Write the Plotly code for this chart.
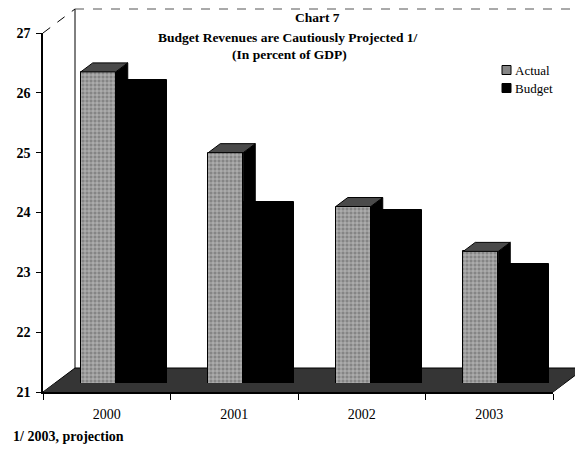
import plotly.graph_objects as go

# ---- data -------------------------------------------------------------
years = ["2000", "2001", "2002", "2003"]
actual = [26.35, 25.0, 24.1, 23.35]
budget = [26.22, 24.17, 24.05, 23.14]
y_ticks = [21, 22, 23, 24, 25, 26, 27]

# ---- geometry (pixels) ------------------------------------------------
W, H = 575, 451
ML, MR, MT, MB = 43, 22, 33, 59
PW, PH = W - ML - MR, H - MT - MB
Y0, Y1 = 21, 27
X0, X1 = -0.5, len(years) - 0.5
px_x = PW / (X1 - X0)          # pixels per category
px_y = PH / (Y1 - Y0)          # pixels per unit


def paper_x(px):
    return (px - ML) / PW


def paper_y(py):
    return (H - MB - py) / PH


# bar footprint in category units
A_OFF, A_W = -26 / px_x, 35 / px_x
B_OFF, B_W = 9 / px_x, 51 / px_x
# 3-D depth of each bar
DX, DY = 12 / px_x, 9 / px_y
# depth of the floor / back wall
WALL_DX, WALL_DY = 32 / PW, 24 / PH
FRONT_BAND = 9 / PH

SERIF = "Liberation Serif, Times New Roman, serif"
ACTUAL_BG, ACTUAL_FG = "#858585", "white"
FLOOR = "#353535"
xs = list(range(len(years)))

fig = go.Figure()

fig.add_trace(go.Bar(
    x=xs, y=budget, name="Budget", offset=B_OFF, width=B_W,
    marker=dict(color="black", line=dict(color="black", width=1)),
    showlegend=False,
))
fig.add_trace(go.Bar(
    x=xs, y=actual, name="Actual", offset=A_OFF, width=A_W,
    marker=dict(
        color=ACTUAL_BG,
        line=dict(color="black", width=1),
        pattern=dict(shape="+", fgcolor=ACTUAL_FG, bgcolor=ACTUAL_BG,
                     size=4, solidity=0.35),
    ),
    showlegend=False,
))

shapes = []

# floor slab and back wall
shapes.append(dict(
    type="path", xref="paper", yref="paper", layer="below",
    path=(f"M 0,0 L 1,0 L {1 + WALL_DX},{WALL_DY} "
          f"L {WALL_DX},{WALL_DY} Z"),
    fillcolor=FLOOR, line=dict(color="black", width=1),
))
shapes.append(dict(
    type="line", xref="paper", yref="paper", layer="below",
    x0=WALL_DX, x1=WALL_DX, y0=WALL_DY, y1=1 + WALL_DY,
    line=dict(color="black", width=1),
))
shapes.append(dict(
    type="line", xref="paper", yref="paper",
    x0=0, x1=WALL_DX, y0=1, y1=1 + WALL_DY,
    line=dict(color="black", width=1, dash="dash"),
))
shapes.append(dict(
    type="line", xref="paper", yref="paper",
    x0=WALL_DX, x1=1.1, y0=1 + WALL_DY, y1=1 + WALL_DY,
    line=dict(color="#555555", width=1, dash="dash"),
))

# 3-D faces of the Actual columns, built from the values
for i, v in zip(xs, actual):
    a0, a1 = i + A_OFF, i + A_OFF + A_W
    shapes.append(dict(
        type="path", xref="x", yref="y",
        path=(f"M {a1},{Y0} L {a1 + DX},{Y0 + DY} L {a1 + DX},{v + DY} "
              f"L {a1},{v} Z"),
        fillcolor="black", line=dict(color="black", width=1),
    ))
    shapes.append(dict(
        type="path", xref="x", yref="y",
        path=(f"M {a0},{v} L {a1},{v} L {a1 + DX},{v + DY} "
              f"L {a0 + DX},{v + DY} Z"),
        fillcolor="#4a4a4a", line=dict(color="black", width=1),
    ))

# front edge of the floor, in front of the columns
shift = FRONT_BAND * WALL_DX / WALL_DY
shapes.append(dict(
    type="path", xref="paper", yref="paper", layer="above",
    path=(f"M 0,0 L 1,0 L {1 + shift},{FRONT_BAND} "
          f"L {shift},{FRONT_BAND} Z"),
    fillcolor=FLOOR, line=dict(color=FLOOR, width=0),
))

# legend keys
legend_items = [("Actual", ACTUAL_BG, 70), ("Budget", "black", 88)]
for label, color, cy in legend_items:
    shapes.append(dict(
        type="rect", xref="paper", yref="paper",
        x0=paper_x(502), x1=paper_x(511),
        y0=paper_y(cy + 4.5), y1=paper_y(cy - 4.5),
        fillcolor=color, line=dict(color="black", width=1),
    ))

annotations = [
    dict(text="<b>Chart 7</b>", x=paper_x(317), y=paper_y(18)),
    dict(text="<b>Budget Revenues are Cautiously Projected 1/</b>",
         x=paper_x(288), y=paper_y(37)),
    dict(text="<b>(In percent of GDP)</b>", x=paper_x(289), y=paper_y(55)),
]
annotations = [dict(a, xref="paper", yref="paper", showarrow=False,
                    xanchor="center", yanchor="middle",
                    font=dict(family=SERIF, size=13.5, color="black"))
               for a in annotations]
for label, color, cy in legend_items:
    annotations.append(dict(
        text=label, xref="paper", yref="paper", x=paper_x(513),
        y=paper_y(cy), xanchor="left", yanchor="middle", showarrow=False,
        font=dict(family=SERIF, size=13, color="black"),
    ))
annotations.append(dict(
    text="<b>1/ 2003, projection</b>", xref="paper", yref="paper",
    x=paper_x(11), y=paper_y(437), xanchor="left",
    yanchor="middle", showarrow=False,
    font=dict(family=SERIF, size=14, color="black"),
))

fig.update_layout(
    width=W, height=H,
    margin=dict(l=ML, r=MR, t=MT, b=MB, pad=0),
    paper_bgcolor="white", plot_bgcolor="rgba(0,0,0,0)",
    barmode="overlay",
    bargap=0,
    showlegend=False,
    shapes=shapes,
    annotations=annotations,
    font=dict(family=SERIF, color="black"),
    xaxis=dict(
        range=[X0, X1], tickmode="array", tickvals=xs, ticktext=years,
        showline=True, linecolor="black", linewidth=1.5,
        ticks="", showgrid=False, zeroline=False,
        tickfont=dict(family=SERIF, size=14, color="black"),
        ticklabelstandoff=8,
        minor=dict(tickmode="array",
                   tickvals=[i - 0.5 for i in range(len(years) + 1)],
                   ticks="outside", ticklen=6, tickcolor="black",
                   tickwidth=1, showgrid=False),
    ),
    yaxis=dict(
        range=[Y0, Y1], tickmode="array", tickvals=y_ticks,
        ticktext=[f"<b>{t}</b>" for t in y_ticks],
        showline=True, linecolor="black", linewidth=1.5,
        ticks="outside", ticklen=5, tickcolor="black", tickwidth=1,
        showgrid=False, zeroline=False,
        tickfont=dict(family=SERIF, size=14, color="black"),
        ticklabelstandoff=3,
    ),
)

fig.write_html("out.html")
